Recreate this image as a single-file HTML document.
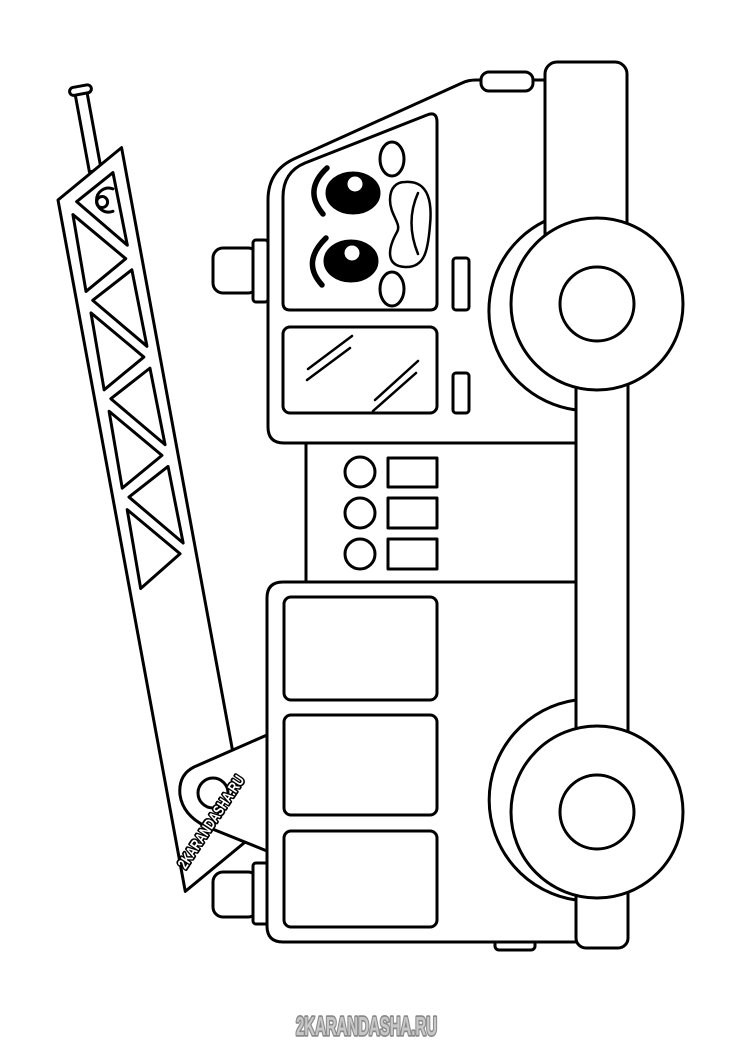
<!DOCTYPE html>
<html><head><meta charset="utf-8"><style>
html,body{margin:0;padding:0;background:#fff;}
svg{display:block;}
</style></head><body>
<svg width="736" height="1042" viewBox="0 0 736 1042" xmlns="http://www.w3.org/2000/svg">
<rect width="736" height="1042" fill="#fff"/>
<g fill="none" stroke="#000" stroke-width="3" stroke-linejoin="round" stroke-linecap="round">

<!-- Ladder -->
<g transform="translate(58,200) rotate(-10.43)">
  <rect x="36" y="-102" width="12" height="80" fill="#fff"/>
  <rect x="31" y="-108" width="22" height="8" rx="4" fill="#fff"/>
  <polygon points="0,0 72,-40 72,663 0,703" fill="#fff"/>
  <polygon points="18,5 59,-17 60,57"/>
  <circle cx="43" cy="10" r="5.5"/>
  <path d="M56,-1 A12,12 0 1 0 52,21"/>
  <polygon points="12,17 56,70 11,95"/>
  <polygon points="12,117 56,170 11,195"/>
  <polygon points="12,217 56,270 11,295"/>
  <polygon points="12,317 56,370 11,397"/>
  <polygon points="60,82 16,105 61,160"/>
  <polygon points="60,182 16,205 61,260"/>
  <polygon points="60,282 16,305 61,360"/>
</g>
<path d="M267,735 L194,767 Q178,775 180,795 Q183,815 205,826 L267,851" fill="#fff"/>
<circle cx="213" cy="793" r="15"/>

<rect x="213" y="248" width="45" height="45" rx="10" fill="#fff"/>
<rect x="253" y="240" width="15" height="62" rx="3" fill="#fff"/>
<rect x="213" y="872" width="45" height="45" rx="10" fill="#fff"/>
<rect x="253" y="863" width="15" height="61" rx="3" fill="#fff"/>

<path d="M576,443 L284,443 Q268,443 268,427 L268,200 Q268,170 296,158 L462,83 Q468,80 476,80 L545,80" fill="#fff"/>
<rect x="481" y="72" width="52" height="19" rx="8" fill="#fff"/>
<path d="M283,300 L283,197 Q283,172 305,163 L427,115 Q437,111 437,122 L437,303 Q437,310 430,310 L290,310 Q283,310 283,303 Z"/>
<rect x="283" y="327" width="154" height="86" rx="7"/>
<rect x="453" y="258" width="16" height="52" rx="3"/>
<rect x="453" y="373" width="16" height="40" rx="3"/>
<path d="M308,369 L352,336 M307,380 L350,348 M375,400 L418,361 M373,411 L416,373" stroke-width="2.5"/>

<path d="M327,168 Q303,190 323,214 M326,238 Q301,262 322,285" stroke-width="5.5"/>
<ellipse cx="353" cy="193" rx="26" ry="20" fill="#000"/>
<circle cx="355" cy="184" r="7.5" fill="#fff" stroke="none"/>
<ellipse cx="351" cy="261" rx="26" ry="20" fill="#000"/>
<circle cx="352" cy="253" r="7.5" fill="#fff" stroke="none"/>
<ellipse cx="392" cy="159" rx="12" ry="17"/>
<ellipse cx="392" cy="289" rx="12" ry="17"/>
<path d="M405,182 C430,180 432,205 430,225 C428,250 425,268 405,267 C385,266 388,248 397,232 C402,224 390,215 390,200 C390,188 396,182 405,182 Z" stroke-width="2.5"/>
<path d="M418,193 Q405,222 418,254" stroke-width="2.5"/>

<path d="M306,443 L306,582"/>
<circle cx="360" cy="472" r="15"/>
<circle cx="360" cy="513" r="15"/>
<circle cx="360" cy="554" r="15"/>
<rect x="388" y="458" width="49" height="29"/>
<rect x="388" y="498" width="49" height="30"/>
<rect x="388" y="539" width="49" height="30"/>

<rect x="495" y="936" width="40" height="14" rx="4" fill="#fff"/>
<path d="M576,582 L283,582 Q267,582 267,598 L267,926 Q267,942 283,942 L576,942" fill="#fff"/>
<rect x="284" y="597" width="153" height="103" rx="7"/>
<rect x="284" y="715" width="153" height="100" rx="7"/>
<rect x="284" y="831" width="153" height="96" rx="7"/>

<path d="M545,221 A100,100 0 0 0 576,410"/>
<path d="M576,700 A101,101 0 0 0 576,900"/>

<rect x="545" y="62" width="82" height="240" rx="12" fill="#fff"/>
<rect x="576" y="300" width="52" height="648" rx="10" fill="#fff"/>

<circle cx="597" cy="304" r="86" fill="#fff"/>
<circle cx="597" cy="304" r="37"/>
<circle cx="597" cy="812" r="86" fill="#fff"/>
<circle cx="597" cy="812" r="37"/>
</g>

<text transform="translate(211,822) rotate(-56.6)" x="0" y="5" text-anchor="middle" textLength="108" lengthAdjust="spacingAndGlyphs" font-family="Liberation Sans, sans-serif" font-weight="bold" font-size="15" fill="#fff" stroke="#000" stroke-width="3.5" paint-order="stroke" stroke-linejoin="round">2KARANDASHA.RU</text>
<text x="296" y="1035" textLength="141" lengthAdjust="spacingAndGlyphs" font-family="Liberation Sans, sans-serif" font-weight="bold" font-size="26" fill="#c8c8c8" stroke="#8a8a8a" stroke-width="3.5" paint-order="stroke" stroke-linejoin="round">2KARANDASHA.RU</text>
</svg>
</body></html>
